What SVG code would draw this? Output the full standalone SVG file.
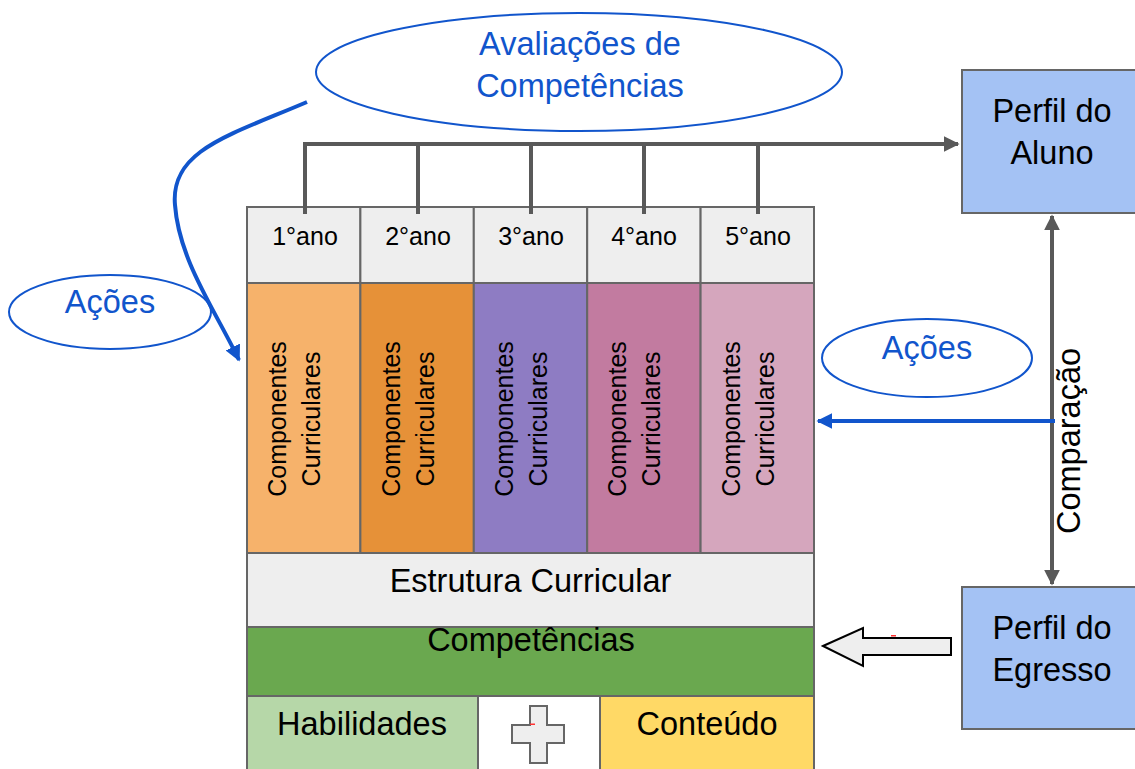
<svg xmlns="http://www.w3.org/2000/svg" width="1135" height="769" viewBox="0 0 1135 769">
<style>
.t{font-family:"Liberation Sans",Arial,sans-serif;fill:#000;text-anchor:middle}
.b{font-family:"Liberation Sans",Arial,sans-serif;fill:#1155cc;text-anchor:middle;font-size:32.5px}
.box{stroke:#666;stroke-width:2}
.g{fill:none;stroke:#595959;stroke-width:4}
.bl{fill:none;stroke:#1155cc;stroke-width:4}
</style>
<defs>
<marker id="ag" viewBox="0 0 10 10" refX="9" refY="5" markerWidth="4" markerHeight="4" orient="auto-start-reverse" markerUnits="strokeWidth"><path d="M0,0 L10,5 L0,10 z" fill="#595959"/></marker>
<marker id="ab" viewBox="0 0 10 10" refX="9" refY="5" markerWidth="4" markerHeight="4" orient="auto" markerUnits="strokeWidth"><path d="M0,0 L10,5 L0,10 z" fill="#1155cc"/></marker>
</defs>
<rect width="1135" height="769" fill="#fff"/>

<g id="headers">
<rect class="box" x="247" y="207" width="113.4" height="76" fill="#eeeeee"/>
<rect class="box" x="360.4" y="207" width="113.4" height="76" fill="#eeeeee"/>
<rect class="box" x="473.8" y="207" width="113.4" height="76" fill="#eeeeee"/>
<rect class="box" x="587.2" y="207" width="113.4" height="76" fill="#eeeeee"/>
<rect class="box" x="700.6" y="207" width="113.4" height="76" fill="#eeeeee"/>
<text class="t" font-size="25" x="305" y="245">1°ano</text>
<text class="t" font-size="25" x="418" y="245">2°ano</text>
<text class="t" font-size="25" x="531" y="245">3°ano</text>
<text class="t" font-size="25" x="644" y="245">4°ano</text>
<text class="t" font-size="25" x="758" y="245">5°ano</text>
</g>

<g id="components">
<rect class="box" x="247" y="283" width="113.4" height="270" fill="#f6b26b"/>
<rect class="box" x="360.4" y="283" width="113.4" height="270" fill="#e69138"/>
<rect class="box" x="473.8" y="283" width="113.4" height="270" fill="#8e7cc3"/>
<rect class="box" x="587.2" y="283" width="113.4" height="270" fill="#c27ba0"/>
<rect class="box" x="700.6" y="283" width="113.4" height="270" fill="#d5a6bd"/>
<g class="t" font-size="25">
<text transform="translate(303.7,419) rotate(-90)"><tspan x="0" y="-17.5">Componentes</tspan><tspan x="0" y="16.5">Curriculares</tspan></text>
<text transform="translate(417.1,419) rotate(-90)"><tspan x="0" y="-17.5">Componentes</tspan><tspan x="0" y="16.5">Curriculares</tspan></text>
<text transform="translate(530.5,419) rotate(-90)"><tspan x="0" y="-17.5">Componentes</tspan><tspan x="0" y="16.5">Curriculares</tspan></text>
<text transform="translate(643.9,419) rotate(-90)"><tspan x="0" y="-17.5">Componentes</tspan><tspan x="0" y="16.5">Curriculares</tspan></text>
<text transform="translate(757.3,419) rotate(-90)"><tspan x="0" y="-17.5">Componentes</tspan><tspan x="0" y="16.5">Curriculares</tspan></text>
</g>
</g>

<g id="estrutura">
<rect class="box" x="247" y="553" width="567" height="74" fill="#eeeeee"/>
<text class="t" font-size="32.5" x="530.5" y="592">Estrutura Curricular</text>
</g>

<g id="competencias">
<rect class="box" x="247" y="627" width="567" height="69" fill="#6aa84f"/>
<text class="t" font-size="32.5" x="531" y="651">Competências</text>
</g>

<g id="habilidades">
<rect class="box" x="247" y="696" width="231" height="80" fill="#b6d7a8"/>
<text class="t" font-size="32.5" x="362" y="735">Habilidades</text>
</g>

<g id="plus">
<rect class="box" x="478" y="696" width="122" height="80" fill="#ffffff"/>
<path class="box" d="M530,706 H547 V725 H564 V743 H547 V763 H530 V743 H512 V725 H530 Z" fill="#eeeeee"/>
<rect x="530" y="723.5" width="5" height="1.5" fill="#ff3333"/>
</g>

<g id="conteudo">
<rect class="box" x="600" y="696" width="214" height="80" fill="#ffd966"/>
<text class="t" font-size="32.5" x="707" y="735">Conteúdo</text>
</g>

<g id="perfil-aluno">
<rect class="box" x="962" y="70" width="180" height="143" fill="#a4c2f4"/>
<text class="t" font-size="32.5"><tspan x="1052" y="122">Perfil do</tspan><tspan x="1052" y="164">Aluno</tspan></text>
</g>

<g id="perfil-egresso">
<rect class="box" x="962" y="587" width="180" height="142" fill="#a4c2f4"/>
<text class="t" font-size="32.5"><tspan x="1052" y="639">Perfil do</tspan><tspan x="1052" y="681">Egresso</tspan></text>
</g>

<g id="avaliacoes">
<ellipse cx="579" cy="72" rx="263" ry="59" fill="#fff" stroke="#1155cc" stroke-width="2"/>
<text class="b"><tspan x="580" y="55">Avaliações de</tspan><tspan x="580" y="97">Competências</tspan></text>
</g>

<g id="acoes-esq">
<ellipse cx="110" cy="312" rx="101" ry="37" fill="#fff" stroke="#1155cc" stroke-width="2"/>
<text class="b" x="110" y="313">Ações</text>
</g>

<g id="acoes-dir">
<ellipse cx="927" cy="358" rx="105" ry="39" fill="#fff" stroke="#1155cc" stroke-width="2"/>
<text class="b" x="927" y="359">Ações</text>
</g>

<g id="connectors">
<path class="g" d="M305,214 V144 H958" marker-end="url(#ag)"/>
<path class="g" d="M418,214 V144 M531,214 V144 M644,214 V144 M758,214 V144"/>
<path class="g" d="M1052,216 V584" marker-start="url(#ag)" marker-end="url(#ag)"/>
<text class="t" font-size="32.5" transform="translate(1080,441) rotate(-90)" x="0" y="0">Comparação</text>
<path class="bl" d="M1055,421 H818" marker-end="url(#ab)"/>
<path class="bl" d="M307,102 C230,135 170,150 175,205 C179,260 215,310 239,360" marker-end="url(#ab)"/>
<path d="M823,646 L863,628 L863,638 L951,638 L951,655 L863,655 L863,666 Z" fill="#eeeeee" stroke="#000" stroke-width="2" stroke-linejoin="miter"/>
<rect x="891" y="635" width="5" height="1.5" fill="#ff3333"/>
</g>
</svg>
